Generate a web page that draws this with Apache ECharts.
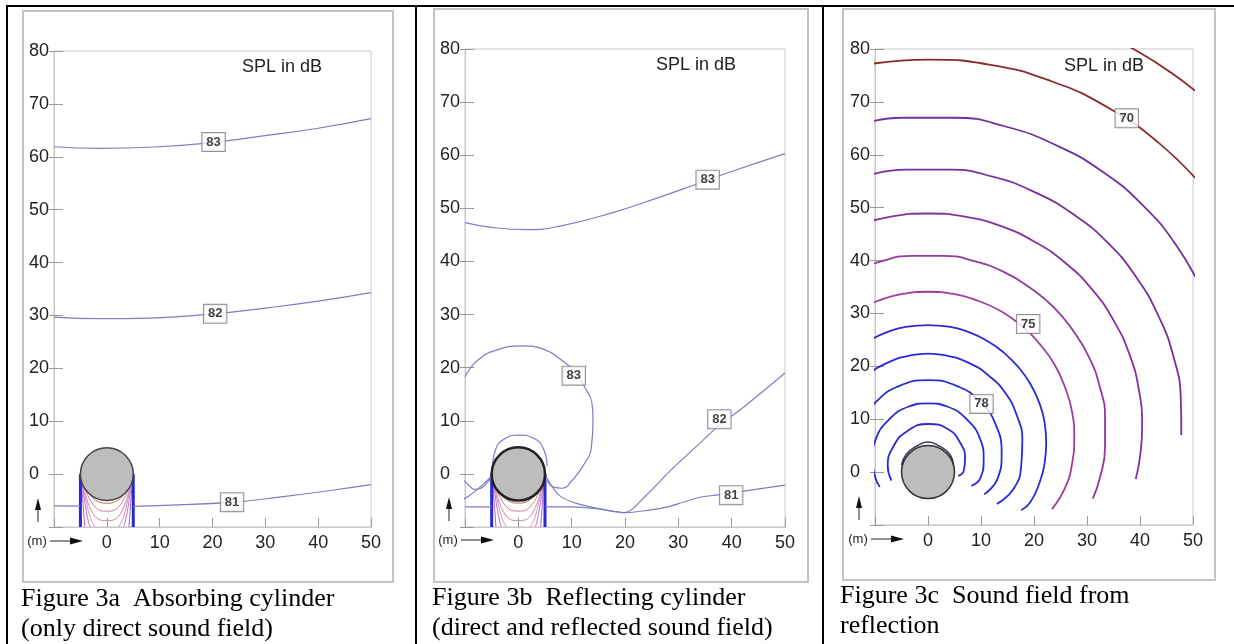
<!DOCTYPE html>
<html>
<head>
<meta charset="utf-8">
<script src="https://cdn.jsdelivr.net/npm/echarts@6/dist/echarts.min.js"></script>
<style>
html,body{margin:0;padding:0;background:#fff}
#chart{width:1234px;height:644px}
</style>
</head>
<body>
<div id="chart"></div>
<script>
// axis range (metres) and tick labels
const xTicks = [0, 10, 20, 30, 40, 50];
const yTicks = [0, 10, 20, 30, 40, 50, 60, 70, 80];

// cylinder: centre x, centre y, radius (m)
const cylinder = [0, 0, 5];

// shadow zone behind the cylinder (panels a and b)
const shadowEdgeL = [[-5, 0], [-5, -10]];
const shadowEdgeR = [[5, 0], [5, -10]];
const shadowU1 = [[-3.5, -3.4], [-2, -5], [0, -5.5], [2, -5], [3.5, -3.4]];
const shadowU2 = [[-4.0, -2.9], [-2.2, -6.2], [0, -7.0], [2.2, -6.2], [4.0, -2.9]];
const shadowU3 = [[-4.3, -2.4], [-2.5, -7.6], [0, -8.8], [2.5, -7.6], [4.3, -2.4]];
const shadowL1 = [[-4.5, -2.0], [-3.2, -8], [-2.2, -10]];
const shadowR1 = [[4.5, -2.0], [3.2, -8], [2.2, -10]];
const shadowL2 = [[-4.7, -1.6], [-3.8, -7.5], [-3.2, -10]];
const shadowR2 = [[4.7, -1.6], [3.8, -7.5], [3.2, -10]];
const shadowL3 = [[-4.85, -1.1], [-4.4, -7], [-4.2, -10]];
const shadowR3 = [[4.85, -1.1], [4.4, -7], [4.2, -10]];

// Figure 3a: absorbing cylinder
const a83 = [[-10, 61.9], [-1, 61.6], [8, 61.8], [20, 62.7], [30, 64.0], [40, 65.4], [50, 67.2]];
const a82 = [[-10, 29.7], [-1, 29.4], [8, 29.5], [20, 30.3], [30, 31.4], [40, 32.7], [50, 34.3]];
const a81L = [[-10, -6.0], [-5, -6.05]];
const a81R = [[5, -6.1], [11, -5.9], [24, -5.3], [33, -4.3], [43, -3.0], [50, -2.0]];
const aLabels = [[20.2, 62.8, '83'], [20.5, 30.3, '82'], [23.7, -5.3, '81']];

// Figure 3b: reflecting cylinder
const b83top = [[-10, 47.3], [-5, 46.4], [2, 46.0], [8, 46.7], [17.4, 49.1], [26.8, 52.2], [33, 54.4], [39.3, 56.7], [50, 60.3]];
const b83loop = [[-10, 18.3], [-7.5, 21.5], [-3.8, 23.4], [0.6, 24.1], [4.9, 23.4], [8.0, 21.5], [10.5, 19.3], [12.4, 16.4], [13.8, 13.3], [14.0, 10.2], [13.7, 5.1], [12.2, 1.6], [10.1, -1.2], [8.2, -2.7], [6.6, -2.5], [5.4, -1.2]];
const b83low = [[-10.5, -1.0], [-9.6, -1.8], [-8.2, -2.9], [-7.0, -2.7], [-5.8, -1.6], [-5.0, -0.6]];
const bRing = [[-4.9, 0.4], [-4.3, 4.5], [-2.4, 6.7], [0, 7.3], [2.9, 6.7], [4.8, 4.5], [5.4, 1.4]];
const b82L = [[-10.5, -4.9], [-9.5, -4.3], [-8.0, -3.2], [-6.5, -1.9], [-5.0, -0.4]];
const b82R = [[5.2, -0.5], [7.6, -4.0], [10.7, -5.5], [14.4, -6.4], [17.6, -7.0], [20, -7.3], [23.7, -4.3], [28.7, 0.8], [33.0, 4.8], [37.4, 8.9], [42.4, 12.7], [50, 19.0]];
const b81L = [[-10, -6.2], [-5, -6.2]];
const b81R = [[5, -6.2], [10, -6.2], [15, -6.6], [20, -7.3], [24, -6.9], [28, -6.2], [31, -5.3], [34, -4.4], [37, -4.0], [42, -3.3], [50, -2.1]];
const bLabels = [[35.5, 55.4, '83'], [10.4, 18.5, '83'], [37.7, 10.3, '82'], [39.9, -4.0, '81']];

// Figure 3c: sound field from reflection
const c1 = [[-5.0, 1.3], [-4.1, 3.4], [-2.2, 4.9], [0, 5.7], [2.2, 4.9], [4.1, 3.4], [4.8, 1.3]];
const c2 = [[-6.9, -1.6], [-7.6, 1.2], [-6.5, 4.9], [-4.0, 7.7], [0, 9.1], [3.8, 8.1], [6.1, 5.5], [7.0, 2.6], [6.7, 0.1], [5.7, -0.7]];
const c3 = [[-9.1, -2.8], [-9.9, -1.1], [-10.5, 2.5], [-9.9, 6.1], [-7.4, 9.9], [-3.6, 12.4], [0, 13.0], [3.6, 12.4], [7.4, 9.9], [9.9, 6.1], [10.5, 2.5], [9.9, -1.1], [8.2, -2.6]];
const c4 = [[-12.0, 10.5], [-9.8, 13.3], [-5.9, 16.1], [0, 17.4], [5.9, 16.1], [9.8, 13.3], [12.6, 9.4], [13.9, 3.5], [13.1, -1.3], [10.6, -4.2]];
const c5 = [[-14.7, 14.8], [-11.5, 18.2], [-7.6, 20.7], [-3.1, 22.1], [0, 22.4], [3.1, 22.1], [7.6, 20.7], [11.5, 18.2], [14.7, 14.8], [16.8, 10.6], [17.8, 6.1], [17.6, 1.4], [16.2, -3.1], [13.0, -6.0]];
const c6 = [[-14.3, 22.6], [-11.2, 24.8], [-7.6, 26.5], [-3.9, 27.5], [0, 27.8], [3.9, 27.5], [7.6, 26.5], [11.2, 24.8], [14.3, 22.6], [17.1, 19.8], [19.3, 16.7], [21.0, 13.1], [22.0, 9.4], [22.3, 5.5], [22.0, 1.6], [21.0, -2.1], [19.3, -5.7], [17.6, -7.2]];
const c7 = [[-13.8, 30.4], [-9.4, 32.4], [-4.8, 33.7], [0, 34.1], [4.8, 33.7], [9.4, 32.4], [13.8, 30.4], [17.7, 27.6], [21.1, 24.2], [23.9, 20.3], [25.9, 15.9], [27.2, 11.3], [27.6, 6.5], [27.2, 1.7], [25.9, -2.9], [23.4, -7.0]];
const c8 = [[-14.2, 37.9], [-8.7, 39.9], [-2.9, 40.9], [2.9, 40.9], [8.7, 39.9], [14.2, 37.9], [19.2, 34.9], [23.7, 31.2], [27.4, 26.7], [30.4, 21.7], [32.4, 16.2], [33.4, 10.4], [33.4, 4.6], [32.4, -1.2], [31.1, -5.0]];
const c9 = [[-13.8, 46.5], [-7.0, 48.3], [0, 48.9], [7.0, 48.3], [13.8, 46.5], [20.2, 43.5], [26.0, 39.5], [31.0, 34.5], [35.0, 28.7], [38.0, 22.3], [39.8, 15.5], [40.4, 8.5], [40.0, 2.9], [39.2, -1.3]];
const c10 = [[-12.4, 55.8], [-4.2, 57.2], [4.2, 57.2], [12.4, 55.8], [20.2, 52.9], [27.5, 48.7], [33.9, 43.4], [39.2, 37.0], [43.4, 29.7], [46.3, 21.9], [47.7, 13.7], [47.8, 7.0]];
const c11 = [[-12.9, 65.7], [-5.0, 67.0], [5.0, 67.0], [14.8, 65.3], [24.2, 61.8], [32.8, 56.9], [40.5, 50.5], [46.9, 42.8], [51.8, 34.2]];
const c12 = [[-11.8, 77.0], [0, 78.0], [11.8, 77.0], [23.3, 73.9], [34.0, 68.9], [43.7, 62.1], [52.1, 53.7]];
const c13 = [[33.8, 82.5], [40.0, 79.3], [45.9, 75.5], [51.4, 71.3]];
const cLabels = [[37.5, 66.9, '70'], [18.9, 28.0, '75'], [10.1, 12.9, '78']];

const captions = [
    ['Figure 3a  Absorbing cylinder', '(only direct sound field)'],
    ['Figure 3b  Reflecting cylinder', '(direct and reflected sound field)'],
    ['Figure 3c  Sound field from', 'reflection']
];

const SANS = '"Liberation Sans", Arial, sans-serif';
const SERIF = '"Liberation Serif", "Times New Roman", serif';
const CONTOUR = '#7d7dc6';
const BLUE = '#2828d8';

const chart = echarts.init(document.getElementById('chart'));

const grids = [
    {left: 54, top: 51, width: 317, height: 476, show: true, borderColor: '#c8c8c8', borderWidth: 1},
    {left: 465, top: 49, width: 320, height: 478, show: true, borderColor: '#c8c8c8', borderWidth: 1},
    {left: 875, top: 49, width: 318, height: 476, show: true, borderColor: '#c8c8c8', borderWidth: 1}
];
// pixel offsets of panels b and c relative to panel a (for decorations)
const shift = [[0, 0], [411, -1], [821, -2]];

const xAxes = [], yAxes = [];
grids.forEach((g, i) => {
    xAxes.push({
        type: 'value', gridIndex: i, min: -10, max: 50, interval: 10, position: 'bottom',
        axisLine: {show: true, onZero: false, lineStyle: {color: '#c8c8c8'}},
        axisTick: {show: true, inside: true, length: 9, lineStyle: {color: '#999'}},
        axisLabel: {
            fontSize: 18, color: '#222', fontFamily: SANS, margin: 7,
            formatter: v => xTicks.includes(v) ? String(v) : ''
        },
        splitLine: {show: false}
    });
});
grids.forEach((g, i) => {
    yAxes.push({
        type: 'value', gridIndex: i, min: -10, max: 80, interval: 10, position: 'left',
        axisLine: {show: true, onZero: false, lineStyle: {color: '#c8c8c8'}},
        axisTick: {show: true, inside: true, length: 9, lineStyle: {color: '#999'}},
        axisLabel: {
            fontSize: 18, color: '#222', fontFamily: SANS, margin: 5,
            formatter: v => yTicks.includes(v) ? (v === 0 ? '0  ' : String(v)) : ''
        },
        splitLine: {show: false}
    });
});
// second y axis per panel, only for the part of the tick outside the frame
grids.forEach((g, i) => {
    yAxes.push({
        type: 'value', gridIndex: i, min: -10, max: 80, interval: 10, position: 'left', offset: 0,
        axisLine: {show: false, onZero: false},
        axisTick: {show: true, inside: false, length: 5, lineStyle: {color: '#999'}},
        axisLabel: {show: false},
        splitLine: {show: false}
    });
});

const series = [];
function line(g, data, color, width, smooth) {
    series.push({
        type: 'line', xAxisIndex: g, yAxisIndex: g, data: data,
        symbol: 'none', smooth: smooth === undefined ? true : smooth, clip: true,
        lineStyle: {color: color, width: width}, z: 2, silent: true
    });
}
function labels(g, data) {
    series.push({
        type: 'scatter', xAxisIndex: g, yAxisIndex: g, data: data,
        symbolSize: 1, itemStyle: {color: 'rgba(0,0,0,0)'}, z: 10, silent: true,
        label: {
            show: true, position: 'inside', formatter: p => p.value[2],
            fontSize: 13, fontWeight: 'bold', fontFamily: SANS, color: '#111',
            backgroundColor: '#fff', borderColor: '#777', borderWidth: 1, padding: [3, 4, 2, 4]
        }
    });
}
function cyl(g, stroke, lw) {
    series.push({
        type: 'custom', xAxisIndex: g, yAxisIndex: g, data: [cylinder], z: 6, silent: true,
        renderItem: (params, api) => {
            const c = api.coord([api.value(0), api.value(1)]);
            const r = api.size([api.value(2), 0])[0];
            return {type: 'circle', shape: {cx: c[0], cy: c[1], r: r},
                style: {fill: '#bdbdbd', stroke: stroke, lineWidth: lw}};
        }
    });
}
function shadow(g) {
    line(g, shadowU1, '#b87058', 1);
    line(g, shadowU2, '#c87c8c', 1);
    line(g, shadowU3, '#cc84aa', 1);
    line(g, shadowL1, '#d090c4', 1);
    line(g, shadowR1, '#d090c4', 1);
    line(g, shadowL2, '#c070c4', 1);
    line(g, shadowR2, '#c070c4', 1);
    line(g, shadowL3, '#a860cc', 1);
    line(g, shadowR3, '#a860cc', 1);
    line(g, shadowEdgeL, BLUE, 3, false);
    line(g, shadowEdgeR, BLUE, 3, false);
}

// panel a
shadow(0);
line(0, a83, CONTOUR, 1.2);
line(0, a82, CONTOUR, 1.2);
line(0, a81L, CONTOUR, 1.2);
line(0, a81R, CONTOUR, 1.2);
cyl(0, '#444', 1.5);
labels(0, aLabels);

// panel b
shadow(1);
line(1, b83top, CONTOUR, 1.2);
line(1, b83loop, CONTOUR, 1.2);
line(1, b83low, CONTOUR, 1.2);
line(1, bRing, CONTOUR, 1.2);
line(1, b82L, CONTOUR, 1.2);
line(1, b82R, CONTOUR, 1.2, 0.3);
line(1, b81L, CONTOUR, 1.2);
line(1, b81R, CONTOUR, 1.2, 0.3);
cyl(1, '#222', 2.5);
labels(1, bLabels);

// panel c
line(2, c1, '#333366', 1.5);
[c2, c3, c4, c5, c6].forEach(d => line(2, d, '#2a2ad6', 1.8));
line(2, c7, '#a03c9c', 1.8);
line(2, c8, '#93389e', 1.8);
line(2, c9, '#8430a0', 1.8);
line(2, c10, '#7a2e9e', 1.8);
line(2, c11, '#70309e', 1.8);
line(2, c12, '#8a2a2a', 1.8);
line(2, c13, '#8a2a2a', 1.8);
cyl(2, '#333', 1.5);
labels(2, cLabels);

// page decorations: table rules, panel frames, captions, unit arrows
const graphic = [];
graphic.push({type: 'rect', shape: {x: 6, y: 5, width: 1228, height: 2}, style: {fill: '#000'}});
graphic.push({type: 'rect', shape: {x: 6, y: 5, width: 2, height: 639}, style: {fill: '#000'}});
graphic.push({type: 'rect', shape: {x: 415, y: 5, width: 2, height: 639}, style: {fill: '#000'}});
graphic.push({type: 'rect', shape: {x: 822, y: 5, width: 2, height: 639}, style: {fill: '#000'}});
const frames = [[23, 11, 370, 571], [434, 9, 374, 573], [843, 9, 372, 571]];
frames.forEach(f => graphic.push({type: 'rect', shape: {x: f[0], y: f[1], width: f[2], height: f[3]},
    style: {fill: 'none', stroke: '#c4c4c4', lineWidth: 2}}));
const capX = [21, 432, 840];
const capY = [599, 598, 596];
captions.forEach((c, i) => {
    graphic.push({type: 'text', x: capX[i], y: capY[i],
        style: {text: c[0], fontSize: 26, fontFamily: SERIF, fill: '#000', verticalAlign: 'middle'}});
    graphic.push({type: 'text', x: capX[i], y: capY[i] + 30,
        style: {text: c[1], fontSize: 26, fontFamily: SERIF, fill: '#000', verticalAlign: 'middle'}});
});
const splX = [282, 696, 1104];
const splY = [67, 65, 66];
splX.forEach((x, i) => graphic.push({type: 'text', x: x, y: splY[i],
    style: {text: 'SPL in dB', fontSize: 18, fontFamily: SANS, fill: '#222', align: 'center', verticalAlign: 'middle'}}));
shift.forEach(s => {
    const dx = s[0], dy = s[1];
    graphic.push({type: 'text', x: 37 + dx, y: 541 + dy,
        style: {text: '(m)', fontSize: 13, fontFamily: SANS, fill: '#222', align: 'center', verticalAlign: 'middle'}});
    graphic.push({type: 'line', shape: {x1: 50 + dx, y1: 541 + dy, x2: 72 + dx, y2: 541 + dy},
        style: {stroke: '#222', lineWidth: 1}});
    graphic.push({type: 'polygon', shape: {points: [[83 + dx, 541 + dy], [70 + dx, 537.5 + dy], [70 + dx, 544.5 + dy]]},
        style: {fill: '#111'}});
    graphic.push({type: 'line', shape: {x1: 38 + dx, y1: 522 + dy, x2: 38 + dx, y2: 508 + dy},
        style: {stroke: '#222', lineWidth: 1}});
    graphic.push({type: 'polygon', shape: {points: [[38 + dx, 498 + dy], [35 + dx, 510 + dy], [41 + dx, 510 + dy]]},
        style: {fill: '#111'}});
});

chart.setOption({
    animation: false,
    backgroundColor: '#fff',
    grid: grids,
    xAxis: xAxes,
    yAxis: yAxes,
    series: series,
    graphic: graphic
});
</script>
</body>
</html>
